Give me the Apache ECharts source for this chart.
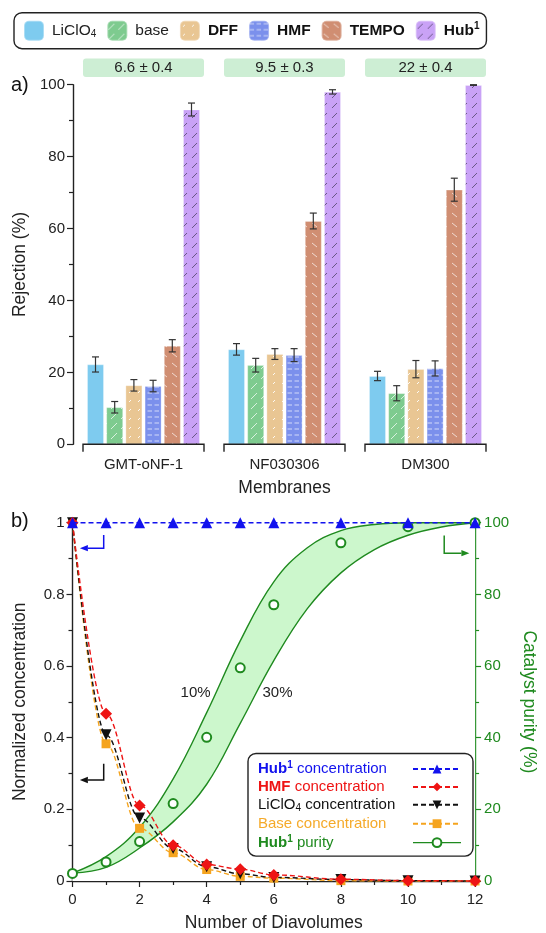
<!DOCTYPE html>
<html><head><meta charset="utf-8">
<script src="https://cdn.jsdelivr.net/npm/echarts@6/dist/echarts.min.js"></script>
<style>html,body{margin:0;padding:0;background:#fff}#c{width:546px;height:933px}</style>
</head><body><div id="c"></div>
<script>
// ---------- data: panel a ----------
const membranes = ['GMT-oNF-1', 'NF030306', 'DM300'];
const mwcoLabels = ['6.6 ± 0.4', '9.5 ± 0.3', '22 ± 0.4'];
const solutes = ['LiClO4', 'base', 'DFF', 'HMF', 'TEMPO', 'Hub1'];
const rejLiClO4 = [22.2, 26.4, 19.0];
const errLiClO4 = [2.1, 1.6, 1.3];
const rejBase = [10.3, 22.0, 14.2];
const errBase = [1.6, 1.9, 2.1];
const rejDFF = [16.4, 25.1, 20.9];
const errDFF = [1.6, 1.5, 2.4];
const rejHMF = [16.2, 24.8, 21.1];
const errHMF = [1.6, 1.8, 2.1];
const rejTEMPO = [27.4, 62.1, 70.8];
const errTEMPO = [1.7, 2.2, 3.2];
const rejHub = [93.1, 98.0, 99.9];
const errHub = [1.8, 0.6, 0.1];
const rejTicksA = [0, 20, 40, 60, 80, 100];

// ---------- data: panel b ----------
const diavolumes = [0, 1, 2, 3, 4, 5, 6, 8, 10, 12];
const hubConc = [1, 1, 1, 1, 1, 1, 1, 1, 1, 1];
const hmfConc = [1, 0.467, 0.211, 0.100, 0.046, 0.033, 0.017, 0.005, 0.001, 0];
const liConc = [1, 0.408, 0.176, 0.091, 0.040, 0.020, 0.010, 0.004, 0.001, 0];
const baseConc = [1, 0.383, 0.147, 0.079, 0.032, 0.013, 0.008, 0.001, 0, 0];
const hubPurity = [2.1, 5.3, 11.0, 21.6, 40.1, 59.5, 77.1, 94.4, 98.9, 100];
const bandX = [0, 1, 2, 3, 4, 5, 6, 7, 8, 9, 10, 11, 12];
const band10 = [2.2, 6.8, 15, 28.5, 47, 67, 83.5, 93, 97.8, 99.5, 100, 100, 100];
const band30 = [2.2, 3.8, 9.2, 16.5, 27, 44, 61.5, 76, 86, 92.5, 96.5, 98.8, 100];

const FONT = '"Liberation Sans", Arial, Helvetica, sans-serif';
const BLUE = '#1212ee', RED = '#ee1414', BLACK = '#111', ORANGE = '#f5a41e', GREEN = '#1f8a1f';
const TXT = '#222';

function pattern(bg, w, h, draw) {
  const c = document.createElement('canvas');
  c.width = w; c.height = h;
  const ctx = c.getContext('2d');
  ctx.fillStyle = bg; ctx.fillRect(0, 0, w, h);
  draw(ctx);
  return { image: c, repeat: 'repeat' };
}
function seg(ctx, col, lw, pts) {
  ctx.strokeStyle = col; ctx.lineWidth = lw;
  pts.forEach(p => { ctx.beginPath(); ctx.moveTo(p[0], p[1]); ctx.lineTo(p[2], p[3]); ctx.stroke(); });
}
const barColors = ['#7ecbef', '#7ecb8f', '#e9c693', '#7b90ec', '#d08e72', '#c9a2f6'];
const fills = [
  barColors[0],
  pattern(barColors[1], 10, 10, ctx => seg(ctx, 'rgba(255,255,255,0.8)', 0.9, [[1, 9, 7, 3]])),
  pattern(barColors[2], 9, 9, ctx => seg(ctx, 'rgba(255,255,255,0.9)', 1, [[3, 6, 5, 4]])),
  pattern(barColors[3], 7, 6, ctx => seg(ctx, 'rgba(255,255,255,0.75)', 0.9, [[0.5, 3, 5, 3]])),
  pattern(barColors[4], 10, 10, ctx => seg(ctx, 'rgba(255,255,255,0.75)', 0.9, [[2, 3, 7, 7]])),
  pattern(barColors[5], 10, 10, ctx => seg(ctx, 'rgba(40,40,60,0.75)', 0.8, [[2, 8, 7, 3]]))
];
const rejAll = [rejLiClO4, rejBase, rejDFF, rejHMF, rejTEMPO, rejHub];
const errAll = [errLiClO4, errBase, errDFF, errHMF, errTEMPO, errHub];
const BW = 16.8, BG = 2.4;

const barSeries = solutes.map((s, j) => ({
  type: 'bar', name: s, xAxisIndex: 0, yAxisIndex: 0,
  data: rejAll[j], barWidth: BW, barGap: (BG / BW * 100) + '%',
  itemStyle: { color: fills[j], borderColor: 'rgba(255,255,255,0.35)', borderWidth: 0.8 },
  z: 2
}));
const errData = [];
solutes.forEach((s, j) => membranes.forEach((m, i) => errData.push([i, rejAll[j][i], errAll[j][i], j])));
const errSeries = {
  type: 'custom', xAxisIndex: 0, yAxisIndex: 0, data: errData, encode: { x: 0, y: 1 }, z: 5, clip: false, silent: true,
  renderItem(params, api) {
    const ci = api.value(0), v = api.value(1), e = api.value(2), j = api.value(3);
    const t = api.coord([ci, v + e]), b = api.coord([ci, v - e]);
    const x = t[0] + (j - 2.5) * (BW + BG);
    const st = { stroke: '#333', lineWidth: 1.2 };
    return { type: 'group', children: [
      { type: 'line', shape: { x1: x, y1: t[1], x2: x, y2: b[1] }, style: st },
      { type: 'line', shape: { x1: x - 3.5, y1: t[1], x2: x + 3.5, y2: t[1] }, style: st },
      { type: 'line', shape: { x1: x - 3.5, y1: b[1], x2: x + 3.5, y2: b[1] }, style: st }
    ] };
  }
};

const pair = (xs, ys) => xs.map((x, i) => [x, ys[i]]);
const concLine = (name, ys, color, symbol, size, extra) => Object.assign({
  type: 'line', name, xAxisIndex: 1, yAxisIndex: 1, data: pair(diavolumes, ys),
  smooth: 0.35, smoothMonotone: 'x', symbol, symbolSize: size, clip: false,
  lineStyle: { color, width: 1.4, type: [5, 3] }, itemStyle: { color }, z: 4
}, extra || {});

const bSeries = [
  // 10 % curve: band filled down to the axis, then the 30 % curve masks the part below it
  { type: 'line', name: 'band10', xAxisIndex: 1, yAxisIndex: 2, data: pair(bandX, band10),
    smooth: 0.4, symbol: 'none', lineStyle: { color: GREEN, width: 1.4 },
    areaStyle: { color: '#ccf7cc', opacity: 1, origin: 'start' }, z: 1, silent: true },
  { type: 'line', name: 'band30', xAxisIndex: 1, yAxisIndex: 2, data: pair(bandX, band30),
    smooth: 0.4, symbol: 'none', lineStyle: { color: GREEN, width: 1.4 },
    areaStyle: { color: '#ffffff', opacity: 1, origin: 'start' }, z: 1.5, silent: true },
  concLine('baseC', baseConc, ORANGE, 'rect', 9),
  concLine('liC', liConc, BLACK, 'triangle', 11, { symbolRotate: 180 }),
  concLine('hmfC', hmfConc, RED, 'diamond', 12),
  { type: 'line', name: 'purity', xAxisIndex: 1, yAxisIndex: 2, data: pair(diavolumes, hubPurity), clip: false,
    symbol: 'emptyCircle', symbolSize: 9, lineStyle: { width: 0, opacity: 0 },
    itemStyle: { color: GREEN, borderColor: GREEN, borderWidth: 1.2 }, z: 5 },
  concLine('hubC', hubConc, BLUE, 'triangle', 11, { smooth: false, z: 6 })
];

const legendNames = {
  'LiClO4': '{n|LiClO}{sub|4}', 'base': '{n|base}', 'DFF': '{b|DFF}', 'HMF': '{b|HMF}',
  'TEMPO': '{b|TEMPO}', 'Hub1': '{b|Hub}{sup|1}'
};
const legendBNames = {
  hubC: '{hb|Hub}{hs|1}{h| concentration}',
  hmfC: '{rb|HMF}{r| concentration}',
  liC: '{k|LiClO}{ks|4}{k| concentration}',
  baseC: '{o|Base concentration}',
  purity: '{gb|Hub}{gs|1}{g| purity}'
};
const rt = (color, bold) => ({ color, fontSize: 15, fontWeight: bold ? 'bold' : 'normal', lineHeight: 17, align: 'left', fontFamily: FONT });
const rsup = (color, bold) => ({ color, fontSize: 10, fontWeight: bold ? 'bold' : 'normal', lineHeight: 10, verticalAlign: 'top', align: 'left', fontFamily: FONT });
const rsub = (color) => ({ color, fontSize: 10, lineHeight: 10, verticalAlign: 'bottom', align: 'left', fontFamily: FONT });

const axisTxt = { color: TXT, fontSize: 15, fontFamily: FONT };
const nameTxt = { color: TXT, fontSize: 17.5, fontFamily: FONT };

const option = {
  animation: false,
  backgroundColor: '#fff',
  textStyle: { fontFamily: FONT },
  grid: [
    { left: 73, width: 423, top: 84.7, height: 359.6 },
    { left: 72.5, right: 59.5, top: 522.7, height: 360 }
  ],
  legend: [
    { data: solutes, left: 14, top: 12.7, orient: 'horizontal', itemWidth: 20, itemHeight: 20, itemGap: 10,
      padding: [7, 7, 7, 9], borderColor: '#222', borderWidth: 1.4, borderRadius: 8,
      formatter: n => legendNames[n], selectedMode: false,
      textStyle: { padding: [0, 0, 0, 3], rich: {
        n: { fontSize: 15.5, color: TXT, lineHeight: 18, fontFamily: FONT },
        b: { fontSize: 15.5, color: '#111', fontWeight: 'bold', lineHeight: 18, fontFamily: FONT },
        sub: { fontSize: 10, color: TXT, lineHeight: 10, verticalAlign: 'bottom', fontFamily: FONT },
        sup: { fontSize: 10, color: '#111', fontWeight: 'bold', lineHeight: 10, verticalAlign: 'top', fontFamily: FONT }
      } } },
    { data: ['hubC', 'hmfC', 'liC', 'baseC',
        { name: 'purity', lineStyle: { opacity: 1, width: 1.4, color: GREEN, type: 'solid' } }],
      left: 248, top: 753.5, orient: 'vertical', align: 'right', itemWidth: 48, itemHeight: 11, itemGap: 2.9,
      padding: [7, 11, 6, 10], borderColor: '#222', borderWidth: 1.4, borderRadius: 8, backgroundColor: '#fff',
      formatter: n => legendBNames[n], selectedMode: false,
      textStyle: { width: 150, rich: {
        hb: rt(BLUE, true), hs: rsup(BLUE, true), h: rt(BLUE),
        rb: rt(RED, true), r: rt(RED),
        k: rt(BLACK), ks: rsub(BLACK),
        o: rt('#f5aa2a'),
        gb: rt(GREEN, true), gs: rsup(GREEN, true), g: rt(GREEN)
      } } }
  ],
  xAxis: [
    { type: 'category', gridIndex: 0, data: membranes, axisLine: { show: false }, axisTick: { show: false },
      axisLabel: Object.assign({ margin: 13 }, axisTxt), name: 'Membranes', nameLocation: 'middle', nameGap: 35,
      nameTextStyle: nameTxt },
    { type: 'value', gridIndex: 1, min: 0, max: 12, interval: 2, splitLine: { show: false },
      axisLine: { lineStyle: { color: '#222', width: 1.4 } }, axisTick: { length: 6, lineStyle: { color: '#222', width: 1.2 } },
      minorTick: { show: true, splitNumber: 2, length: 4, lineStyle: { color: '#222', width: 1.2 } },
      axisLabel: Object.assign({ margin: 11 }, axisTxt), name: 'Number of Diavolumes', nameLocation: 'middle', nameGap: 33,
      nameTextStyle: nameTxt }
  ],
  yAxis: [
    { type: 'value', gridIndex: 0, min: rejTicksA[0], max: rejTicksA[rejTicksA.length - 1], interval: 20, splitLine: { show: false },
      axisLine: { show: true, lineStyle: { color: '#222', width: 1.4 } }, axisTick: { show: true, length: 6, lineStyle: { color: '#222', width: 1.2 } },
      minorTick: { show: true, splitNumber: 2, length: 4, lineStyle: { color: '#222', width: 1.2 } },
      axisLabel: Object.assign({ margin: 8 }, axisTxt), name: 'Rejection (%)', nameLocation: 'middle', nameGap: 43,
      nameTextStyle: nameTxt },
    { type: 'value', gridIndex: 1, min: 0, max: 1, interval: 0.2, splitLine: { show: false },
      axisLine: { show: true, lineStyle: { color: '#222', width: 1.4 } }, axisTick: { show: true, length: 6, lineStyle: { color: '#222', width: 1.2 } },
      minorTick: { show: true, splitNumber: 2, length: 4, lineStyle: { color: '#222', width: 1.2 } },
      axisLabel: Object.assign({ margin: 8 }, axisTxt), name: 'Normalized concentration', nameLocation: 'middle', nameGap: 43,
      nameTextStyle: nameTxt },
    { type: 'value', gridIndex: 1, position: 'right', min: 0, max: 100, interval: 20, splitLine: { show: false },
      axisLine: { show: true, lineStyle: { color: GREEN, width: 1.4 } }, axisTick: { show: true, length: 6, lineStyle: { color: GREEN, width: 1.2 } },
      minorTick: { show: true, splitNumber: 2, length: 4, lineStyle: { color: GREEN, width: 1.2 } },
      axisLabel: { margin: 9, color: GREEN, fontSize: 15, fontFamily: FONT }, name: 'Catalyst purity (%)', nameLocation: 'middle',
      nameGap: 42, nameRotate: -90, nameTextStyle: { color: GREEN, fontSize: 17.5, fontFamily: FONT } }
  ],
  series: barSeries.concat([errSeries]).concat(bSeries)
};

const chart = echarts.init(document.getElementById('c'), null, { renderer: 'canvas' });
chart.setOption(option);

// ---------- annotations positioned through the axes ----------
const g = [];
const y0a = chart.convertToPixel({ yAxisIndex: 0 }, 0);
membranes.forEach((m, i) => {
  const cx = chart.convertToPixel({ xAxisIndex: 0 }, i);
  const hw = 60.5;
  g.push({ type: 'polyline', shape: { points: [[cx - hw, y0a + 7.5], [cx - hw, y0a], [cx + hw, y0a], [cx + hw, y0a + 7.5]] },
    style: { stroke: '#222', lineWidth: 1.4, fill: null }, z: 10 });
  g.push({ type: 'rect', shape: { x: cx - hw, y: 58.5, width: 2 * hw, height: 18.5, r: 3 }, style: { fill: '#cdeed4' }, z: 10 });
  g.push({ type: 'text', x: cx, y: 68, style: { text: mwcoLabels[i], fontSize: 15, fill: TXT, align: 'center', verticalAlign: 'middle', fontFamily: FONT }, z: 11 });
});
const P = (x, y) => chart.convertToPixel({ gridIndex: 1 }, [x, y]);
function arrow(pts, color) {
  const px = pts.map(p => P(p[0], p[1]));
  const a = px[px.length - 2], b = px[px.length - 1];
  const dx = b[0] - a[0], dy = b[1] - a[1], L = Math.hypot(dx, dy), ux = dx / L, uy = dy / L;
  const hl = 8, hw = 3.2;
  const base = [b[0] - ux * hl, b[1] - uy * hl];
  const line = px.slice(0, -1).concat([base]);
  g.push({ type: 'polyline', shape: { points: line }, style: { stroke: color, lineWidth: 1.5, fill: null }, z: 20 });
  g.push({ type: 'polygon', shape: { points: [b, [base[0] - uy * hw, base[1] + ux * hw], [base[0] + uy * hw, base[1] - ux * hw]] },
    style: { fill: color }, z: 20 });
}
arrow([[0.93, 0.966], [0.93, 0.929], [0.22, 0.929]], BLUE);
arrow([[0.93, 0.327], [0.93, 0.282], [0.22, 0.282]], BLACK);
arrow([[11.08, 0.964], [11.08, 0.915], [11.83, 0.915]], GREEN);
const t10 = P(3.67, 0.526), t30 = P(6.11, 0.526);
g.push({ type: 'text', x: t10[0], y: t10[1], style: { text: '10%', fontSize: 15, fill: TXT, align: 'center', verticalAlign: 'middle', fontFamily: FONT }, z: 20 });
g.push({ type: 'text', x: t30[0], y: t30[1], style: { text: '30%', fontSize: 15, fill: TXT, align: 'center', verticalAlign: 'middle', fontFamily: FONT }, z: 20 });
g.push({ type: 'text', x: 11, y: 85, style: { text: 'a)', fontSize: 20, fill: '#111', align: 'left', verticalAlign: 'middle', fontFamily: FONT }, z: 20 });
g.push({ type: 'text', x: 11, y: 521, style: { text: 'b)', fontSize: 20, fill: '#111', align: 'left', verticalAlign: 'middle', fontFamily: FONT }, z: 20 });
chart.setOption({ graphic: g });
</script>
</body></html>
